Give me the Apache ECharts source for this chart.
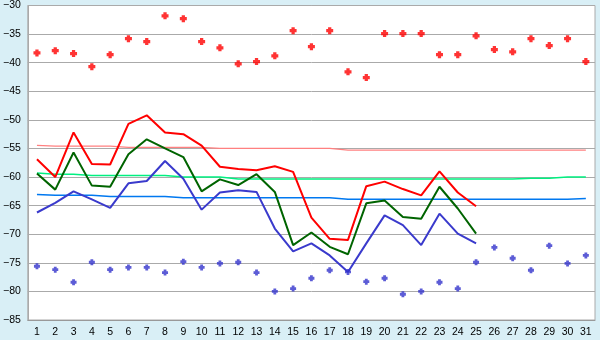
<!DOCTYPE html>
<html>
<head>
<meta charset="utf-8">
<script src="https://cdn.jsdelivr.net/npm/echarts@6/dist/echarts.min.js"></script>
<style>
html,body{margin:0;padding:0;background:#d9eff6;}
#c{width:600px;height:340px;}
</style>
</head>
<body>
<div id="c"></div>
<script>
var days = [];
for (var d = 1; d <= 31; d++) days.push(String(d));

var maxDots = [-38.3,-37.9,-38.4,-40.7,-38.6,-35.8,-36.3,-31.8,-32.3,-36.3,-37.4,-40.2,-39.8,-38.8,-34.4,-37.2,-34.4,-41.6,-42.6,-34.9,-34.9,-34.9,-38.6,-38.6,-35.3,-37.7,-38.1,-35.8,-37.0,-35.8,-39.8];
var minDots = [-75.6,-76.2,-78.4,-74.9,-76.2,-75.8,-75.8,-76.7,-74.8,-75.8,-75.1,-74.9,-76.7,-80.0,-79.5,-77.7,-76.3,-76.6,-78.3,-77.7,-80.5,-80.0,-78.4,-79.5,-74.9,-72.3,-74.2,-76.3,-72.0,-75.1,-73.7];

var redLine = [-56.9,-60.0,-52.2,-57.7,-57.8,-50.7,-49.2,-52.2,-52.5,-54.5,-58.2,-58.6,-58.8,-58.1,-59.1,-67.1,-70.8,-71.0,-61.6,-60.8,-62.1,-63.2,-59.0,-62.7,-65.1];
var greenLine = [-59.4,-62.2,-55.7,-61.5,-61.7,-56.0,-53.4,-55.0,-56.5,-62.5,-60.4,-61.4,-59.5,-62.6,-71.9,-69.7,-72.2,-73.5,-64.6,-64.1,-67.0,-67.3,-61.7,-65.5,-69.9];
var blueLine = [-66.2,-64.5,-62.5,-63.9,-65.4,-61.1,-60.7,-57.2,-60.3,-65.7,-62.7,-62.3,-62.6,-69.0,-73.0,-71.6,-73.7,-76.6,-71.6,-66.7,-68.4,-71.9,-66.4,-69.9,-71.6];

var pinkRef = [-54.45,-54.6,-54.6,-54.6,-54.6,-54.8,-54.8,-54.8,-54.8,-54.8,-55.0,-55.0,-55.0,-55.0,-55.0,-55.0,-55.0,-55.3,-55.3,-55.3,-55.3,-55.3,-55.3,-55.3,-55.3,-55.3,-55.3,-55.3,-55.3,-55.3,-55.3];
var lightGreenRef = [-59.3,-59.5,-59.5,-59.75,-59.75,-59.75,-59.75,-59.75,-60.0,-60.0,-60.0,-60.35,-60.35,-60.35,-60.35,-60.35,-60.35,-60.35,-60.35,-60.35,-60.35,-60.35,-60.35,-60.35,-60.35,-60.35,-60.35,-60.2,-60.2,-60.0,-60.0];
var lightBlueRef = [-63.05,-63.2,-63.2,-63.2,-63.4,-63.4,-63.4,-63.4,-63.6,-63.6,-63.6,-63.6,-63.6,-63.6,-63.6,-63.6,-63.6,-63.9,-63.9,-63.9,-63.9,-63.9,-63.9,-63.9,-63.9,-63.9,-63.9,-63.9,-63.9,-63.9,-63.75];

var yMin = -85, yMax = -30, yStep = 5;

var plusPath = 'path://M1.6,0H4.4V1.6H6V4.4H4.4V6H1.6V4.4H0V1.6H1.6Z';

var chart = echarts.init(document.getElementById('c'), null, {renderer: 'canvas'});
function refLine(data, color, w) {
  return {type: 'line', data: data, showSymbol: false, symbol: 'none', silent: true,
    lineStyle: {color: color, width: w}, z: 2};
}
function mainLine(data, color, w) {
  return {type: 'line', data: data, showSymbol: false, symbol: 'none', silent: true,
    lineStyle: {color: color, width: w}, z: 3};
}
chart.setOption({
  animation: false,
  backgroundColor: '#d9eff6',
  textStyle: {fontFamily: 'Liberation Sans'},
  grid: {left: 26, right: 5, top: 5, bottom: 20, show: true, backgroundColor: '#ffffff', borderColor: '#aaaaaa', borderWidth: 1},
  xAxis: {
    type: 'category', data: days, boundaryGap: true,
    axisLine: {lineStyle: {color: '#999999', width: 1}},
    axisTick: {alignWithLabel: true, length: 5, lineStyle: {color: '#333333'}},
    axisLabel: {color: '#000000', fontSize: 10.5, margin: 7, fontFamily: 'Liberation Sans', interval: 0},
    splitLine: {show: false}
  },
  yAxis: {
    type: 'value', min: yMin, max: yMax, interval: yStep,
    axisLine: {show: true, lineStyle: {color: '#aaaaaa'}},
    axisTick: {show: false},
    axisLabel: {color: '#000000', fontSize: 10.5, margin: 7, fontFamily: 'Liberation Sans',
      formatter: function (v) { return v < 0 ? '\u2212' + Math.abs(v) : String(v); }},
    splitLine: {lineStyle: {color: '#aaaaaa', width: 1}}
  },
  series: [
    refLine(pinkRef, '#ff8080', 1.2),
    refLine(lightGreenRef, '#00f080', 1.5),
    refLine(lightBlueRef, '#0078f0', 1.5),
    mainLine(redLine, '#ff0000', 2),
    mainLine(greenLine, '#006400', 2),
    mainLine(blueLine, '#3a3acc', 2),
    {type: 'scatter', data: maxDots, symbol: plusPath, symbolSize: 7, itemStyle: {color: '#ff0000'}, z: 4, silent: true},
    {type: 'scatter', data: minDots, symbol: plusPath, symbolSize: 6, itemStyle: {color: '#3333cc'}, z: 4, silent: true}
  ]
});
</script>
</body>
</html>
